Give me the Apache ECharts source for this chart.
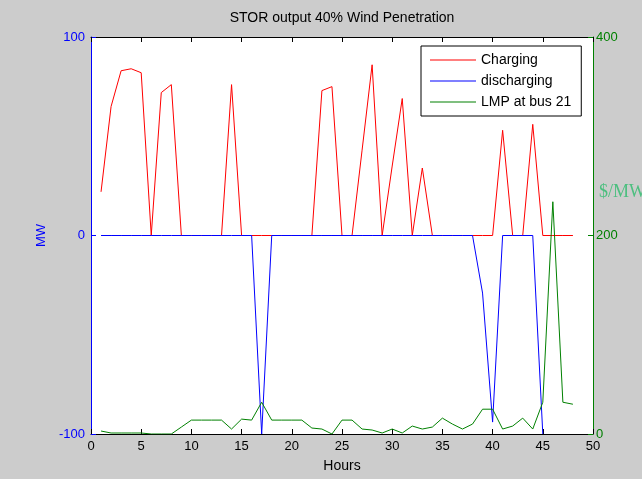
<!DOCTYPE html>
<html>
<head>
<meta charset="utf-8">
<script src="https://cdn.jsdelivr.net/npm/echarts@6/dist/echarts.min.js"></script>
<style>
html,body{margin:0;padding:0;background:#cccccc;}
#c{width:642px;height:479px;}
</style>
</head>
<body>
<div id="c"></div>
<script>
const hours = [1,2,3,4,5,6,7,8,9,10,11,12,13,14,15,16,17,18,19,20,21,22,23,24,25,26,27,28,29,30,31,32,33,34,35,36,37,38,39,40,41,42,43,44,45,46,47,48];
const charging = [22,65,83,84,82,0,72,76,0,0,0,0,0,76,0,0,0,0,0,0,0,0,73,75,0,0,43,86,0,35,69,0,34,0,0,0,0,0,0,0,53,0,0,56,0,0,0,0];
const discharging = [0,0,0,0,0,0,0,0,0,0,0,0,0,0,0,0,-100,0,0,0,0,0,0,0,0,0,0,0,0,0,0,0,0,0,0,0,0,0,-29,-94,0,0,0,0,-100];
const lmp = [3,1,1,1,1,0,0,0,7,14,14,14,14,5,15,14,32,14,14,14,14,6,5,0,14,14,5,4,1,5,1,8,5,7,16,10,5,10,25,25,5,8,16,5,32,234,32,30];
const xTicks = {min:0, max:50, interval:5};
const leftTicks = {min:-100, max:100, interval:100};
const rightTicks = {min:0, max:400, interval:200};

const pairs = (vals) => vals.map((v,i) => [hours[i], v]);
const FONT = "'Liberation Sans', Arial, sans-serif";

const chart = echarts.init(document.getElementById('c'), null, {renderer:'canvas'});
chart.setOption({
  backgroundColor:'#cccccc',
  animation:false,
  textStyle:{fontFamily:FONT},
  title:{
    text:'STOR output 40% Wind Penetration',
    left:342, top:11, textAlign:'center', padding:0,
    textStyle:{fontSize:14, fontWeight:'normal', color:'#000', fontFamily:FONT}
  },
  grid:{left:91, right:49, top:37, bottom:45, show:true, backgroundColor:'#ffffff', borderWidth:0},
  legend:{
    orient:'vertical', left:421, top:46,
    backgroundColor:'#ffffff', borderColor:'#000000', borderWidth:1, borderRadius:0,
    padding:[6,10,6,9], itemWidth:46, itemHeight:1.2, itemGap:5, icon:'rect',
    textStyle:{fontSize:14, color:'#000', fontFamily:FONT, lineHeight:16},
    data:['Charging','discharging','LMP at bus 21']
  },
  xAxis:[
    {type:'value', position:'bottom', min:xTicks.min, max:xTicks.max, interval:xTicks.interval,
     name:'Hours', nameLocation:'middle', nameGap:25,
     nameTextStyle:{fontSize:14, color:'#000', fontFamily:FONT},
     axisLine:{show:true, onZero:false, lineStyle:{color:'#000', width:1}},
     axisTick:{show:true, inside:true, length:5, lineStyle:{color:'#000'}},
     axisLabel:{color:'#000', fontSize:13, margin:6, fontFamily:FONT},
     splitLine:{show:false}},
    {type:'value', position:'top', min:xTicks.min, max:xTicks.max, interval:xTicks.interval,
     axisLine:{show:true, onZero:false, lineStyle:{color:'#000', width:1}},
     axisTick:{show:true, inside:true, length:5, lineStyle:{color:'#000'}},
     axisLabel:{show:false}, splitLine:{show:false}}
  ],
  yAxis:[
    {type:'value', position:'left', min:leftTicks.min, max:leftTicks.max, interval:leftTicks.interval,
     name:'MW', nameLocation:'middle', nameGap:43, nameRotate:90,
     nameTextStyle:{fontSize:13, color:'#0000ff', fontFamily:FONT},
     axisLine:{show:true, onZero:false, lineStyle:{color:'#0000ff', width:1}},
     axisTick:{show:true, inside:true, length:5, lineStyle:{color:'#0000ff'}},
     axisLabel:{color:'#0000ff', fontSize:13, margin:6, fontFamily:FONT},
     splitLine:{show:false}},
    {type:'value', position:'right', min:rightTicks.min, max:rightTicks.max, interval:rightTicks.interval,
     axisLine:{show:true, onZero:false, lineStyle:{color:'#008000', width:1}},
     axisTick:{show:true, inside:true, length:5, lineStyle:{color:'#008000'}},
     axisLabel:{color:'#008000', fontSize:13, margin:3, fontFamily:FONT},
     splitLine:{show:false}}
  ],
  graphic:[
    {type:'text', left:599, top:183, style:{text:'$/MW', fill:'#4cbf7f', font:"18px 'Liberation Serif', 'DejaVu Serif', serif"}}
  ],
  series:[
    {name:'Charging', type:'line', xAxisIndex:0, yAxisIndex:0, data:pairs(charging),
     symbol:'none', lineStyle:{color:'#ff0000', width:1}, itemStyle:{color:'#ff0000'}},
    {name:'discharging', type:'line', xAxisIndex:0, yAxisIndex:0, data:pairs(discharging),
     symbol:'none', lineStyle:{color:'#0000ff', width:1}, itemStyle:{color:'#0000ff'}},
    {name:'LMP at bus 21', type:'line', xAxisIndex:0, yAxisIndex:1, data:pairs(lmp),
     symbol:'none', lineStyle:{color:'#008000', width:1}, itemStyle:{color:'#008000'}}
  ]
});
</script>
</body>
</html>
